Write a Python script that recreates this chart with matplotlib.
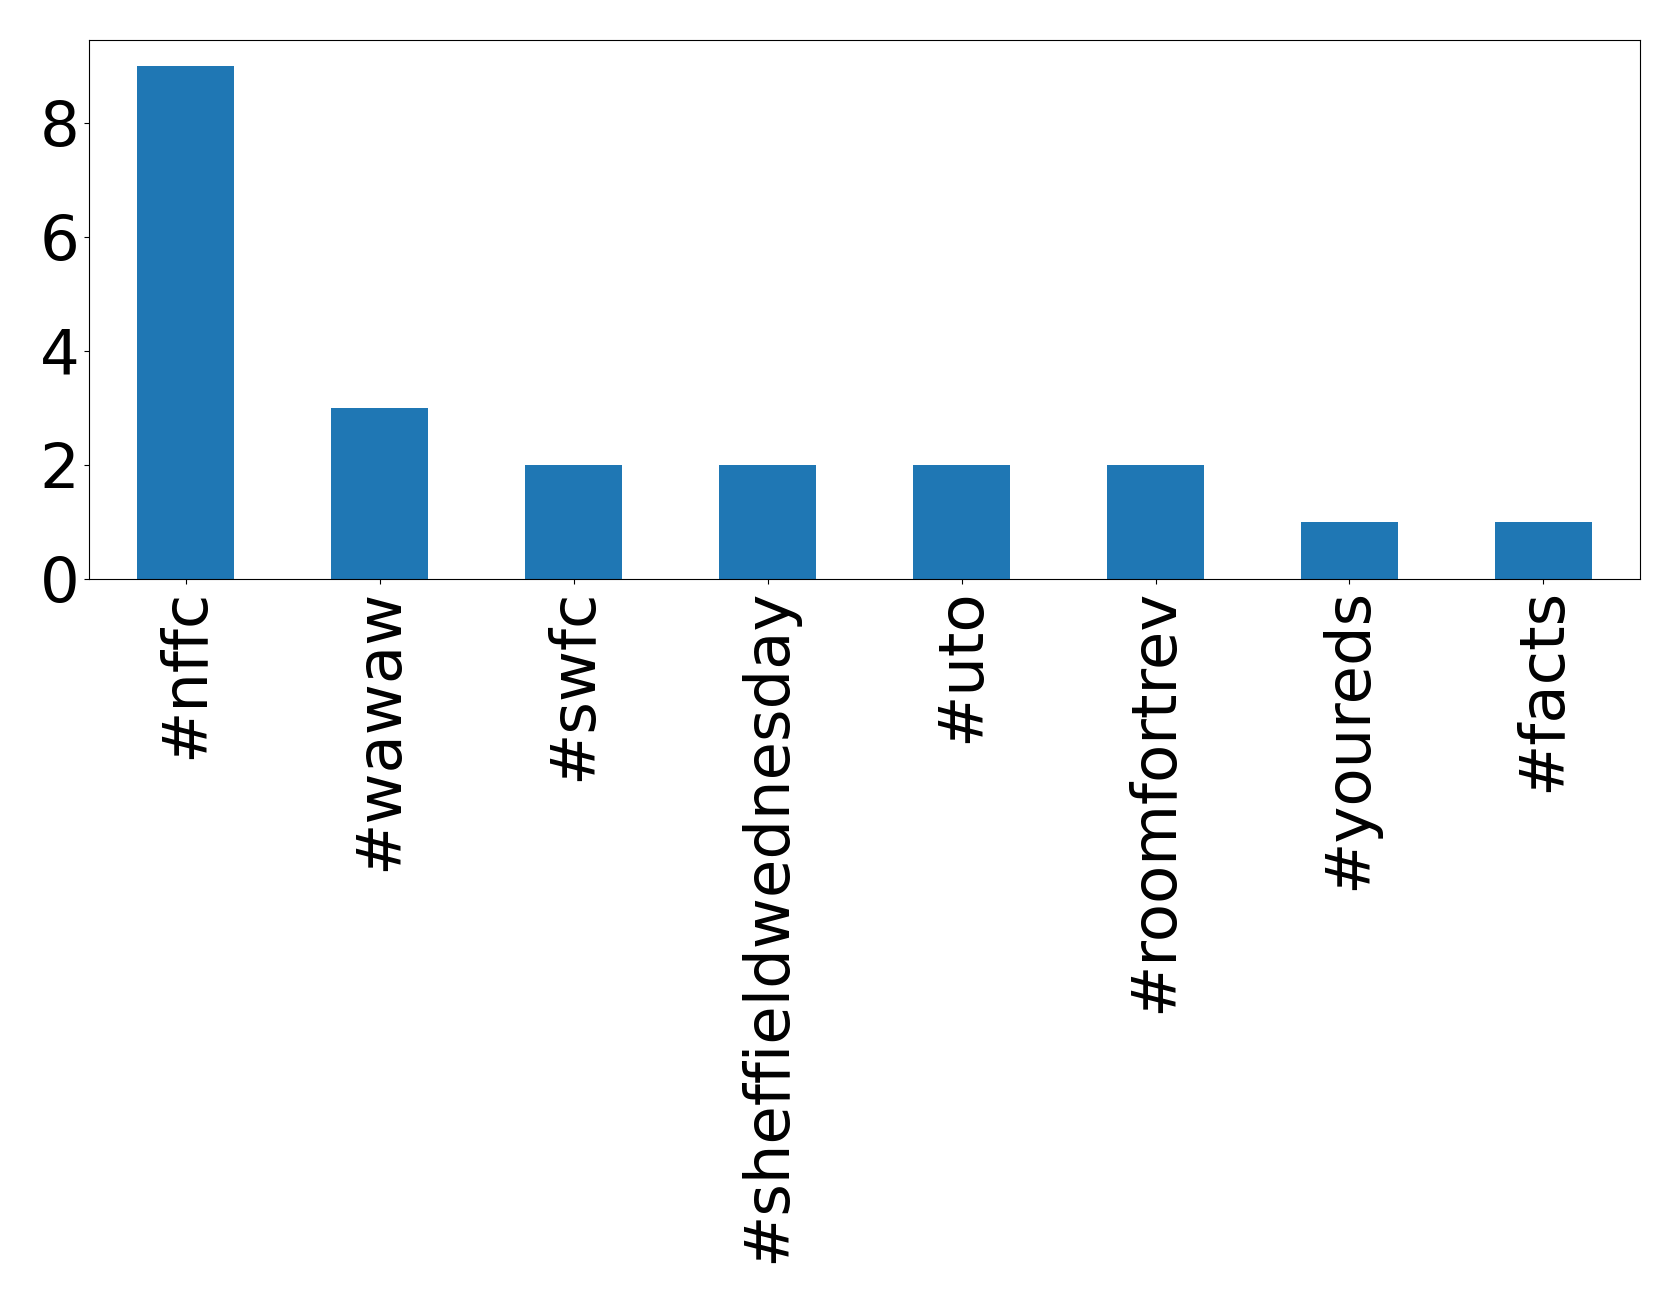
import matplotlib
matplotlib.use("Agg")
import matplotlib.pyplot as plt
import pandas as pd

hashtags = ['#nffc', '#wawaw', '#swfc', '#sheffieldwednesday', '#uto',
            '#roomfortrev', '#youreds', '#facts']
counts = [9, 3, 2, 2, 2, 2, 1, 1]

s = pd.Series(counts, index=hashtags)

fig = plt.figure(figsize=(16.79, 13.03), dpi=100)
ax = fig.add_axes([0.053, 0.556, 0.924, 0.413])
s.plot(kind='bar', ax=ax, color='#1f77b4')
ax.tick_params(axis='both', labelsize=45)
ax.set_yticks([0, 2, 4, 6, 8])

fig.savefig('out.png', dpi=100)
